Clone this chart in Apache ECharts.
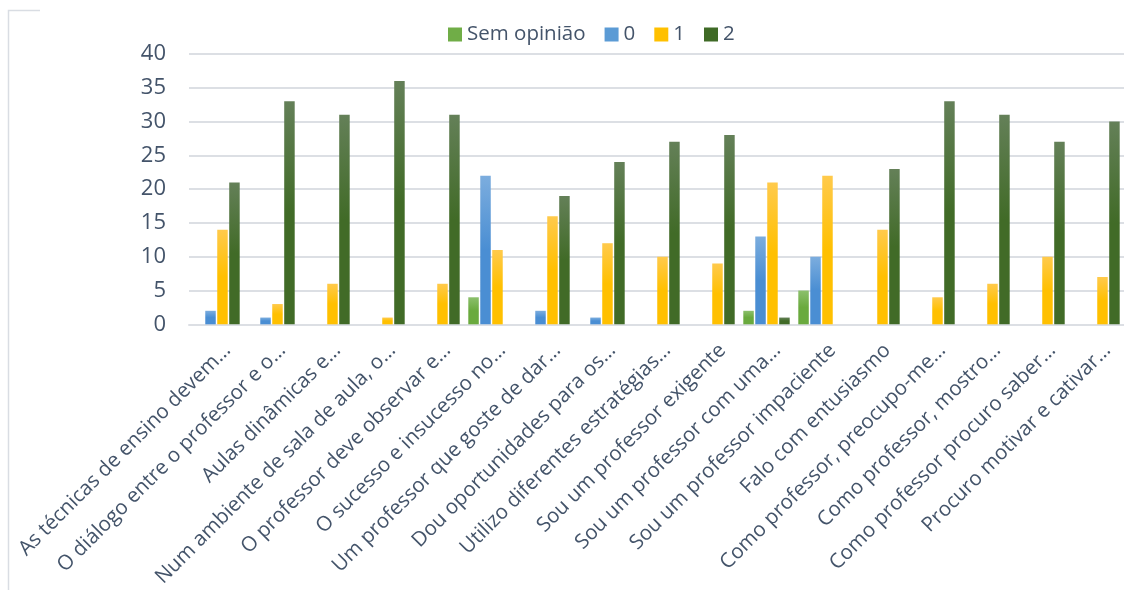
<!DOCTYPE html>
<html>
<head>
<meta charset="utf-8">
<title>Opiniões dos professores</title>
<script src="https://cdn.jsdelivr.net/npm/echarts@6/dist/echarts.min.js"></script>
<style>
  html, body { margin: 0; padding: 0; background: #ffffff; }
  #chart { width: 1124px; height: 590px; }
</style>
</head>
<body>
<div id="chart"></div>
<script>
// Afirmações (rótulos do eixo das categorias, já abreviados)
const categories = [
  'As técnicas de ensino devem…',
  'O diálogo entre o professor e o…',
  'Aulas dinâmicas e…',
  'Num ambiente de sala de aula, o…',
  'O professor deve observar e…',
  'O sucesso e insucesso no…',
  'Um professor que goste de dar…',
  'Dou oportunidades para os…',
  'Utilizo diferentes estratégias…',
  'Sou um professor exigente',
  'Sou um professor com uma…',
  'Sou um professor impaciente',
  'Falo com entusiasmo',
  'Como professor, preocupo-me…',
  'Como professor, mostro…',
  'Como professor procuro saber…',
  'Procuro motivar e cativar…'
];

// Número de respostas por opção (null = sem respostas)
const semOpiniao = [null, null, null, null, null, 4, null, null, null, null, 2, 5, null, null, null, null, null];
const resp0      = [2, 1, null, null, null, 22, 2, 1, null, null, 13, 10, null, null, null, null, null];
const resp1      = [14, 3, 6, 1, 6, 11, 16, 12, 10, 9, 21, 22, 14, 4, 6, 10, 7];
const resp2      = [21, 33, 31, 36, 31, null, 19, 24, 27, 28, 1, null, 23, 33, 31, 27, 30];

const yTicks = [0, 5, 10, 15, 20, 25, 30, 35, 40];

const textColor = '#44546a';
const gridColor = '#dcdfe4';
const font = '"Open Sans", "Noto Sans", sans-serif';

function grad(top, bottom) {
  return new echarts.graphic.LinearGradient(0, 0, 0, 1, [
    { offset: 0, color: top },
    { offset: 0.5, color: bottom },
    { offset: 1, color: bottom }
  ]);
}

function barSeries(name, data, top, mid) {
  return {
    name: name,
    type: 'bar',
    data: data,
    barWidth: 10.5,
    barGap: '14%',
    itemStyle: { color: grad(top, mid) },
    emphasis: { disabled: true }
  };
}

const chart = echarts.init(document.getElementById('chart'), null, { renderer: 'canvas' });

chart.setOption({
  animation: false,
  textStyle: { fontFamily: font },
  legend: {
    top: 19,
    left: 443,
    itemWidth: 14,
    itemHeight: 14,
    itemGap: 19,
    icon: 'rect',
    textStyle: { color: textColor, fontSize: 20.5, fontFamily: font },
    data: [
      { name: 'Sem opinião', itemStyle: { color: '#70ad47' } },
      { name: '0', itemStyle: { color: '#5b9bd5' } },
      { name: '1', itemStyle: { color: '#ffc000' } },
      { name: '2', itemStyle: { color: '#3f6a26' } }
    ]
  },
  grid: { left: 189, top: 54, width: 939, height: 272, containLabel: false },
  xAxis: {
    type: 'category',
    data: categories,
    axisLine: { show: true, lineStyle: { color: gridColor, width: 2 } },
    axisTick: { show: false },
    axisLabel: {
      interval: 0,
      rotate: 45,
      margin: 19,
      verticalAlign: 'top',
      padding: [0, -5, 0, 0],
      color: textColor,
      fontSize: 20.5,
      fontFamily: font
    }
  },
  yAxis: {
    type: 'value',
    min: yTicks[0],
    max: yTicks[yTicks.length - 1],
    interval: 5,
    axisLine: { show: false },
    axisTick: { show: false },
    splitLine: { lineStyle: { color: gridColor, width: 2 } },
    axisLabel: { color: textColor, fontSize: 22, margin: 23, fontFamily: font }
  },
  graphic: [
    {
      type: 'polyline',
      silent: true,
      shape: { points: [[8.5, 590], [8.5, 10.5], [40, 10.5]] },
      style: { stroke: '#d9dde3', lineWidth: 1.5, fill: null }
    }
  ],
  series: [
    barSeries('Sem opinião', semOpiniao, '#8cc06c', '#6aaa3e'),
    barSeries('0', resp0, '#7cadde', '#4a8ed3'),
    barSeries('1', resp1, '#ffca4c', '#ffc000'),
    barSeries('2', resp2, '#648058', '#416b27')
  ]
});
</script>
</body>
</html>
